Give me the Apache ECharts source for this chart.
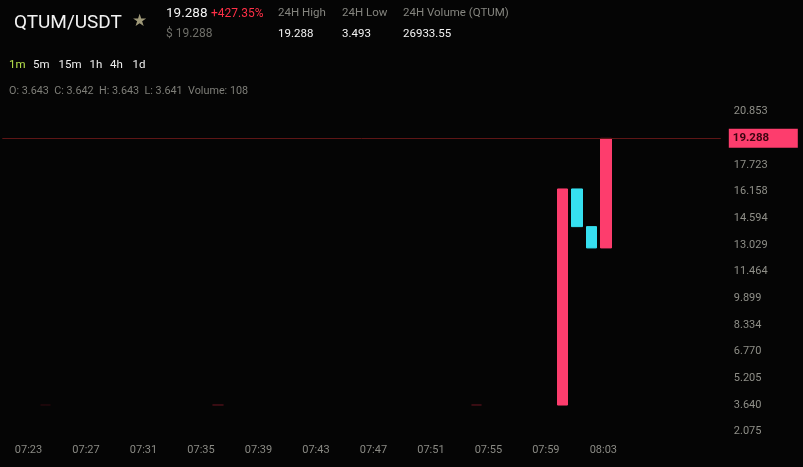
<!DOCTYPE html>
<html>
<head>
<meta charset="utf-8">
<script src="https://cdn.jsdelivr.net/npm/echarts@6/dist/echarts.min.js"></script>
<style>
html,body{margin:0;padding:0;background:#050505;}
#c{width:803px;height:467px;}
</style>
</head>
<body>
<div id="c"></div>
<script>
// ---- data ----
const symbol = 'QTUM/USDT';
const lastPrice = 19.288;
const changePct = '+427.35%';
const usdPrice = '$ 19.288';
const statLabels = ['24H High', '24H Low', '24H Volume (QTUM)'];
const statValues = ['19.288', '3.493', '26933.55'];
const timeframes = ['1m', '5m', '15m', '1h', '4h', '1d'];
const ohlcText = 'O: 3.643  C: 3.642  H: 3.643  L: 3.641  Volume: 108';

const categories = ['07:21','07:22','07:23','07:24','07:25','07:26','07:27','07:28','07:29','07:30',
  '07:31','07:32','07:33','07:34','07:35','07:36','07:37','07:38','07:39','07:40',
  '07:41','07:42','07:43','07:44','07:45','07:46','07:47','07:48','07:49','07:50',
  '07:51','07:52','07:53','07:54','07:55','07:56','07:57','07:58','07:59','08:00',
  '08:01','08:02','08:03','08:04','08:05','08:06','08:07','08:08','08:09','08:10','08:11'];
const xTickLabels = ['07:23','07:27','07:31','07:35','07:39','07:43','07:47','07:51','07:55','07:59','08:03'];

const candleTimes = ['07:24', '07:36', '07:54', '08:00', '08:01', '08:02', '08:03'];
const opens  = [3.642, 3.642, 3.642, 3.640, 16.32, 14.11, 12.86];
const closes = [3.643, 3.643, 3.643, 16.32, 14.11, 12.86, 19.288];
const lows   = [3.641, 3.641, 3.641, 3.640, 14.11, 12.86, 12.86];
const highs  = [3.643, 3.643, 3.643, 16.32, 16.32, 14.11, 19.288];

const yTicks = [2.075, 3.640, 5.205, 6.770, 8.334, 9.899, 11.464, 13.029, 14.594, 16.158, 17.723, 20.853];

// ---- build ----
const UP = '#fd3d6d', DOWN = '#36e0f0', DIM = '#4a1018', FAINT = '#24090d';
const seriesData = categories.map(function (t) {
  const i = candleTimes.indexOf(t);
  if (i < 0) return '-';
  const item = { value: [opens[i], closes[i], lows[i], highs[i]] };
  if (highs[i] - lows[i] < 0.01) {
    const c = i === 0 ? FAINT : DIM;
    item.itemStyle = { color: c, color0: c, borderColor: c, borderColor0: c };
  }
  return item;
});

const font = 'Roboto, "Noto Sans", sans-serif';
const graphics = [];
function txt(text, x, y, size, color, weight) {
  graphics.push({ type: 'text', x: x, y: y, silent: true,
    style: { text: text, fill: color, fontSize: size, fontFamily: font, fontWeight: weight || 'normal', verticalAlign: 'middle', align: 'left' } });
}
txt(symbol, 14, 23, 19, '#f2f2f2');
txt('★', 132, 22, 17, '#9e9878');
txt(String(lastPrice), 166, 13.5, 13.5, '#f2f2f2');
txt(changePct, 211, 14, 12, '#ff3047');
txt(usdPrice, 166, 34, 12, '#6f6f69');
const statX = [278, 342, 403];
statLabels.forEach(function (s, i) { txt(s, statX[i], 13.5, 11.5, '#85857f'); });
statValues.forEach(function (s, i) { txt(s, statX[i], 34, 11.5, '#f2f2f2'); });
const tfX = [9, 33, 58.5, 89.5, 110, 132.5];
timeframes.forEach(function (s, i) { txt(s, tfX[i], 65, 11.5, i === 0 ? '#b7e24c' : '#f0f0f0'); });
txt(ohlcText, 9, 91.5, 10.8, '#7f7f79');

const chart = echarts.init(document.getElementById('c'), null, { renderer: 'canvas' });
chart.setOption({
  backgroundColor: '#050505',
  animation: false,
  graphic: graphics,
  grid: { left: 2.3, right: 82.2, top: 100.7, height: 340.8 },
  xAxis: {
    type: 'category',
    data: categories,
    boundaryGap: false,
    axisLine: { show: false },
    axisTick: { show: false },
    splitLine: { show: false },
    axisLabel: {
      color: '#8a8a84', fontSize: 11, fontFamily: font, margin: 3,
      padding: [0, 5, 0, 0],
      interval: function (idx, val) { return xTickLabels.indexOf(val) >= 0; }
    }
  },
  yAxis: {
    type: 'value',
    position: 'right',
    min: 1.5, max: 21.5,
    axisLine: { show: false },
    axisTick: { show: false },
    splitLine: { show: false },
    axisLabel: {
      customValues: yTicks,
      color: '#8f8f88', fontSize: 11, fontFamily: font, margin: 13,
      formatter: function (v) { return Number(v).toFixed(3); }
    }
  },
  series: [{
    type: 'candlestick',
    data: seriesData,
    barWidth: 11,
    itemStyle: { color: UP, color0: DOWN, borderColor: UP, borderColor0: DOWN, borderWidth: 1 },
    markLine: {
      silent: true,
      symbol: ['none', 'none'],
      lineStyle: { color: '#5e1616', width: 1, type: 'solid' },
      label: {
        show: true, position: 'end', distance: 8,
        formatter: String(lastPrice),
        backgroundColor: UP, color: '#3a0410', fontWeight: 'bold', fontSize: 11.5, fontFamily: font,
        padding: [4, 4, 3, 4], width: 61, align: 'left'
      },
      data: [{ yAxis: lastPrice }]
    }
  }]
});
</script>
</body>
</html>
